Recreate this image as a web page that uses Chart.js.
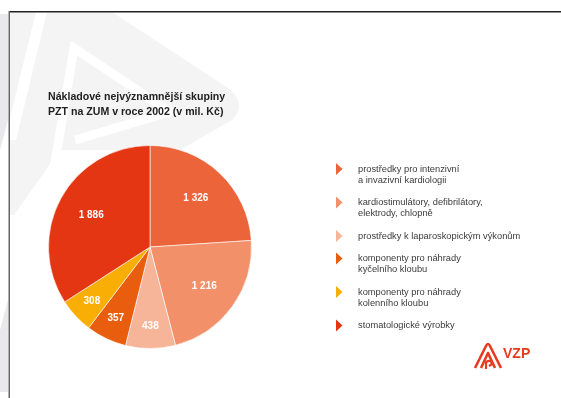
<!DOCTYPE html>
<html lang="cs">
<head>
<meta charset="utf-8">
<title>Nákladové nejvýznamnější skupiny PZT</title>
<script src="https://cdn.jsdelivr.net/npm/chart.js@4"></script>
<style>
  html, body { margin: 0; padding: 0; background: #fff; }
  #wrap { position: relative; width: 561px; height: 398px; overflow: hidden; }
</style>
</head>
<body>
<div id="wrap"><canvas id="pzt" width="561" height="398"></canvas></div>
<script>
// skupiny PZT (legenda, po řádcích)
const categories = [
    ['prostředky pro intenzivní', 'a invazivní kardiologii'],
    ['kardiostimulátory, defibrilátory,', 'elektrody, chlopně'],
    ['prostředky k laparoskopickým výkonům'],
    ['komponenty pro náhrady', 'kyčelního kloubu'],
    ['komponenty pro náhrady', 'kolenního kloubu'],
    ['stomatologické výrobky']
];
// náklady v mil. Kč
const costs = [1326, 1216, 438, 357, 308, 1886];
const sliceColors = ['#EC643A', '#F29169', '#F6B498', '#E85D0E', '#F8AE05', '#E43613'];
const titleLines = ['Nákladové nejvýznamnější skupiny', 'PZT na ZUM v roce 2002 (v mil. Kč)'];

const FONT = '"Liberation Sans", Arial, sans-serif';

function fmt(n) {
    return String(n).replace(/\B(?=(\d{3})+(?!\d))/g, ' ');
}

// podklad snímku: vodoznak, rámeček, logo
const slideBackground = {
    id: 'slideBackground',
    beforeDraw(chart) {
        const c = chart.ctx;
        c.save();
        c.fillStyle = '#fff';
        c.fillRect(0, 0, chart.width, chart.height);

        // okraj vlevo od rámečku
        c.fillStyle = '#e9e9eb';
        c.beginPath();
        c.moveTo(0, 14); c.lineTo(8, 14); c.lineTo(8, 392); c.lineTo(0, 392);
        c.fill();
        c.fillStyle = '#fff';
        c.beginPath();
        c.moveTo(0, 150); c.lineTo(8, 120); c.lineTo(8, 300); c.lineTo(0, 330);
        c.fill();

        // vodoznak
        c.fillStyle = '#f4f4f5';
        c.beginPath();
        c.moveTo(10, 12); c.lineTo(112, 12);
        c.lineTo(228, 88);
        c.quadraticCurveTo(248, 104, 232, 120);
        c.lineTo(180, 150); c.lineTo(60, 150);
        c.lineTo(14, 215); c.lineTo(10, 215);
        c.closePath();
        c.fill();
        c.fillStyle = '#fff';
        c.beginPath();
        c.moveTo(36, 12); c.lineTo(47, 12); c.lineTo(16, 140); c.lineTo(10, 140); c.lineTo(10, 118);
        c.closePath();
        c.fill();
        c.beginPath();
        c.moveTo(130, 12); c.lineTo(146, 12); c.lineTo(246, 80); c.lineTo(250, 100); c.lineTo(236, 88);
        c.closePath();
        c.fill();
        c.strokeStyle = '#fff';
        c.lineWidth = 9;
        c.beginPath();
        c.moveTo(48, 205); c.lineTo(74, 48); c.lineTo(170, 112); c.lineTo(75, 140);
        c.stroke();

        // rámeček
        c.fillStyle = '#222';
        c.fillRect(9, 11, chart.width - 9, 1.5);
        c.fillStyle = '#666';
        c.fillRect(8.5, 11, 1.5, chart.height - 11);
        c.restore();
    },
    afterDraw(chart) {
        const c = chart.ctx;
        c.save();
        c.strokeStyle = '#E63B1F';
        c.lineJoin = 'round';
        c.lineCap = 'butt';
        c.lineWidth = 2.6;
        c.beginPath();
        c.moveTo(475, 368); c.lineTo(486, 346);
        c.quadraticCurveTo(488, 342, 490, 346);
        c.lineTo(501, 368);
        c.stroke();
        c.beginPath();
        c.moveTo(481, 368); c.lineTo(488, 353); c.lineTo(495, 368);
        c.stroke();
        c.lineWidth = 2.2;
        c.beginPath();
        c.moveTo(486, 369); c.lineTo(486, 362);
        c.quadraticCurveTo(491, 359, 492, 364);
        c.lineTo(489, 366);
        c.stroke();
        c.fillStyle = '#E63B1F';
        c.font = 'bold 14px ' + FONT;
        c.textBaseline = 'middle';
        c.fillText('VZP', 503, 354);
        c.restore();
    }
};

// hodnoty uvnitř výsečí
const sliceValues = {
    id: 'sliceValues',
    afterDatasetsDraw(chart) {
        const c = chart.ctx;
        const meta = chart.getDatasetMeta(0);
        const values = chart.data.datasets[0].data;
        const total = values.reduce((a, b) => a + b, 0);
        c.save();
        c.fillStyle = '#fff';
        c.font = 'bold 10px ' + FONT;
        c.textAlign = 'center';
        c.textBaseline = 'middle';
        meta.data.forEach((arc, i) => {
            const p = arc.getProps(['x', 'y', 'startAngle', 'endAngle', 'outerRadius'], true);
            const mid = (p.startAngle + p.endAngle) / 2;
            const k = values[i] / total < 0.1 ? 0.78 : 0.66;
            c.fillText(fmt(values[i]), p.x + Math.cos(mid) * p.outerRadius * k, p.y + Math.sin(mid) * p.outerRadius * k);
        });
        c.restore();
    }
};

// legenda vpravo s trojúhelníkovými značkami
const sideLegend = {
    id: 'sideLegend',
    afterDraw(chart) {
        const c = chart.ctx;
        const labels = chart.data.labels;
        const colors = chart.data.datasets[0].backgroundColor;
        const lineH = 11;
        let y = 169;
        c.save();
        c.font = '9.3px ' + FONT;
        c.textBaseline = 'middle';
        labels.forEach((lines, i) => {
            c.fillStyle = colors[i];
            c.beginPath();
            c.moveTo(336, y - 6);
            c.lineTo(342.5, y);
            c.lineTo(336, y + 6);
            c.closePath();
            c.fill();
            c.fillStyle = '#3a3a3a';
            lines.forEach((t, j) => c.fillText(t, 358, y + j * lineH));
            y += lines.length * lineH + 11.5;
        });
        c.restore();
    }
};

new Chart(document.getElementById('pzt'), {
    type: 'pie',
    data: {
        labels: categories,
        datasets: [{
            data: costs,
            backgroundColor: sliceColors,
            borderColor: 'rgba(255,255,255,0.6)',
            borderWidth: 1,
            hoverOffset: 0
        }]
    },
    options: {
        responsive: false,
        animation: false,
        devicePixelRatio: 1,
        layout: { padding: { left: 48, right: 309, top: 90, bottom: 49 } },
        plugins: {
            legend: { display: false },
            tooltip: { enabled: false },
            title: {
                display: true,
                text: titleLines,
                align: 'start',
                color: '#222',
                font: { family: FONT, size: 10.6, weight: 'bold', lineHeight: 1.42 },
                padding: { top: 0, bottom: 24.9 }
            }
        }
    },
    plugins: [slideBackground, sliceValues, sideLegend]
});
</script>
</body>
</html>
